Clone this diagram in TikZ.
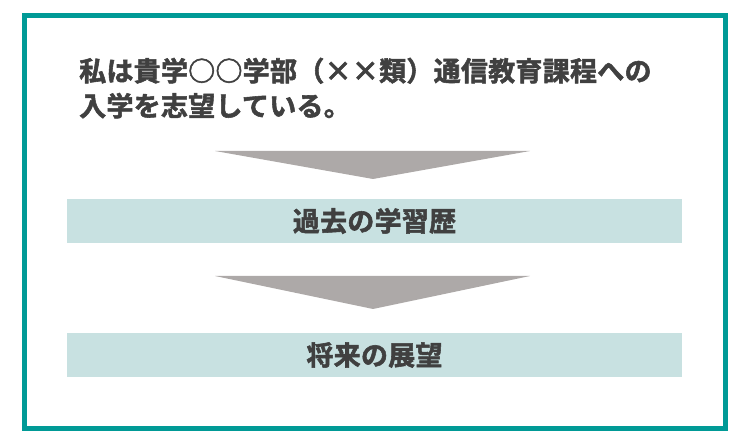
\documentclass[tikz,border=0pt]{standalone}
\usepackage{fontspec}
\usepackage{xcolor}
\newfontfamily\jpfont{Noto Sans CJK JP Bold}[LetterSpace=1,FakeBold=2]
\definecolor{frameteal}{HTML}{009A96}
\definecolor{boxfill}{HTML}{C8E1E1}
\definecolor{arrowgray}{HTML}{ADA9A8}
\definecolor{textgray}{HTML}{404040}
\tikzset{
  jptext/.style={font=\jpfont\fontsize{27}{30}\selectfont, text=textgray, inner sep=0pt},
  stagebox/.style={fill=boxfill, minimum width=615pt, minimum height=44pt, inner sep=0pt},
  downarrow/.style={fill=arrowgray}
}
\begin{document}
\begin{tikzpicture}[x=1pt,y=1pt]
\useasboundingbox (0,0) rectangle (753,441);
\draw[frameteal, line width=5pt] (24.5,425.5) rectangle (725.5,12);
% 志望の一文
\node[jptext, anchor=base west] (line1) at (79,360) {私は貴学○○学部（××類）通信教育課程への};
\node[jptext, anchor=base west] (line2) at ([yshift=-35pt]line1.base west) {入学を志望している。};
% 矢印と段
\fill[downarrow] (215,290) -- (530,290) -- (373,262) -- cycle;
\node[stagebox] (past) at (374.5,220) {};
\node[jptext] at (past) {過去の学習歴};
\fill[downarrow] (215,165) -- (530,165) -- (373,132) -- cycle;
\node[stagebox] (future) at (374.5,86) {};
\node[jptext] at (future) {将来の展望};
\end{tikzpicture}
\end{document}
